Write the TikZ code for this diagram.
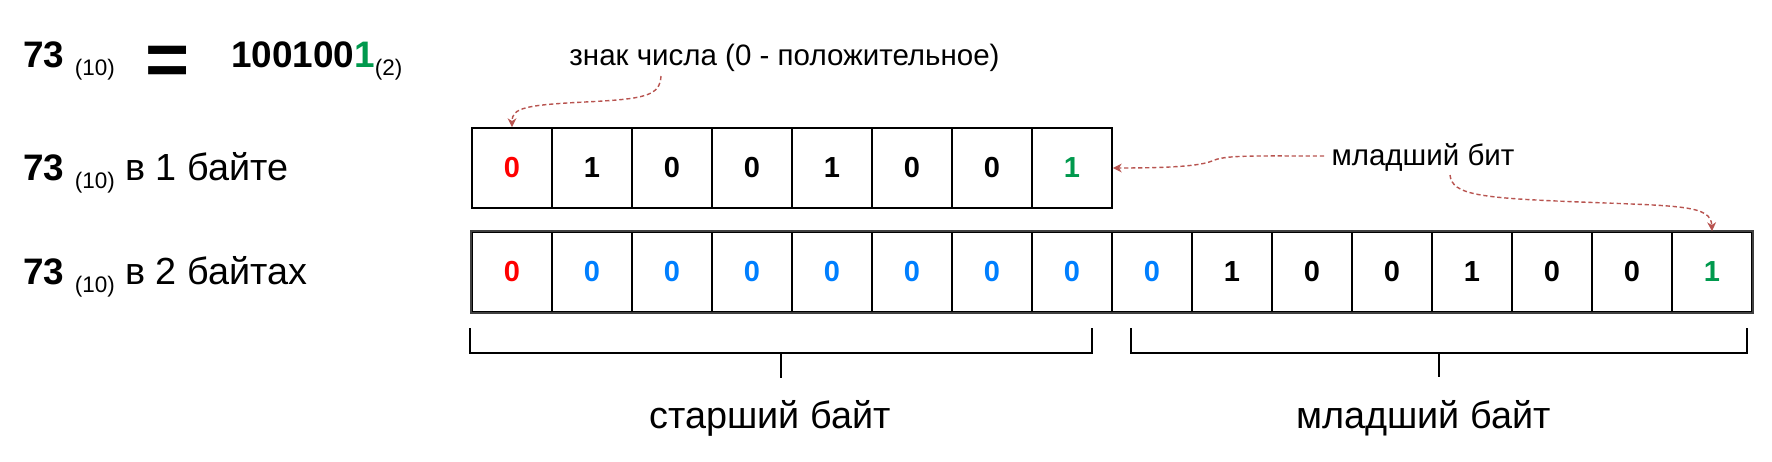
\documentclass[tikz,border=0pt]{standalone}
\usepackage{fontspec}
\setmainfont{Liberation Sans}
\usetikzlibrary{arrows.meta,calc}
\definecolor{SignRed}{HTML}{FF0000}
\definecolor{PadBlue}{HTML}{007FFF}
\definecolor{LowGreen}{HTML}{00994D}
\definecolor{Hint}{HTML}{B85450}
\newcommand{\lblfont}{\fontsize{21.5}{25}\selectfont}
\newcommand{\numfont}{\fontsize{21}{25}\selectfont\bfseries}
\newcommand{\notefont}{\fontsize{16.8}{19}\selectfont}
\newcommand{\radix}[1]{\raisebox{-0.17cm}{\fontsize{12.8}{14}\selectfont(#1)}}

\begin{document}
\begin{tikzpicture}[x=0.02cm,y=-0.02cm,
    bitcell/.style={draw,line width=1pt,minimum width=1.6cm,minimum height=1.6cm,
      inner sep=0pt,font=\fontsize{16.5}{18}\selectfont\bfseries},
    lbl/.style={anchor=base west,inner sep=0pt,font=\lblfont},
    note/.style={anchor=base,inner sep=0pt,font=\notefont},
    hint/.style={draw=Hint,line width=0.8pt,dash pattern=on 2.4pt off 1.6pt,
      -{Stealth[length=5pt,width=5pt,inset=1.5pt]}},
    brace/.style={line width=1.4pt}]
    \useasboundingbox (0,0) rectangle (1772,461);

    % labels on the left
    \node[lbl] (dec) at (23,67) {{\numfont 73} \radix{10}};
    \node[anchor=base,inner sep=0pt,font=\fontsize{43}{43}\selectfont\bfseries] (eq) at (167.5,85) {=};
    \node[lbl] (bin) at (231,67) {{\numfont 100100\textcolor{LowGreen}{1}}\radix{2}};
    \node[lbl] (one) at (23,180) {{\numfont 73} \radix{10} в 1 байте};
    \node[lbl] (two) at (23,284) {{\numfont 73} \radix{10} в 2 байтах};

    % one byte
    \foreach \k/\b/\c in {1/0/SignRed,2/1/black,3/0/black,4/0/black,
                          5/1/black,6/0/black,7/0/black,8/1/LowGreen}{
      \node[bitcell,text=\c] (a\k) at (432+80*\k,168) {\b};
    }

    % two bytes
    \foreach \k/\b/\c in {1/0/SignRed,2/0/PadBlue,3/0/PadBlue,4/0/PadBlue,
                          5/0/PadBlue,6/0/PadBlue,7/0/PadBlue,8/0/PadBlue,
                          9/0/PadBlue,10/1/black,11/0/black,12/0/black,
                          13/1/black,14/0/black,15/0/black,16/1/LowGreen}{
      \node[bitcell,text=\c] (b\k) at (432+80*\k,272) {\b};
    }
    \draw[line width=1pt,black!75] (b1.north west) rectangle (b16.south east);

    % notes and pointers
    \node[note] (sign) at (784.5,65) {знак числа (0 - положительное)};
    \node[note] (lsb) at (1423,165) {младший бит};
    \coordinate (signfrom) at (661,76);
    \coordinate (lsbfrom) at (1324,156);
    \coordinate (lsbdown) at (1450,175);
    \draw[hint] (signfrom) .. controls (660,96) and (645,99) .. (585,102)
      .. controls (525,105) and (512,108) .. (a1.north);
    \draw[hint] (lsbfrom) .. controls (1250,156) and (1225,155) .. (1212,161)
      .. controls (1200,166) and (1170,168) .. (a8.east);
    \draw[hint] (lsbdown) .. controls (1452,195) and (1480,198) .. (1580,202)
      .. controls (1680,206) and (1711,205) .. (b16.north);

    % bytes
    \draw[brace] (470,328) -- (470,353) -- (1092,353) -- (1092,328) (781,353) -- (781,378);
    \draw[brace] (1131,328) -- (1131,353) -- (1747,353) -- (1747,328) (1439,353) -- (1439,377);
    \node[lbl,anchor=base] (hi) at (770,428) {старший байт};
    \node[lbl,anchor=base] (lo) at (1423.5,428) {младший байт};
\end{tikzpicture}
\end{document}
